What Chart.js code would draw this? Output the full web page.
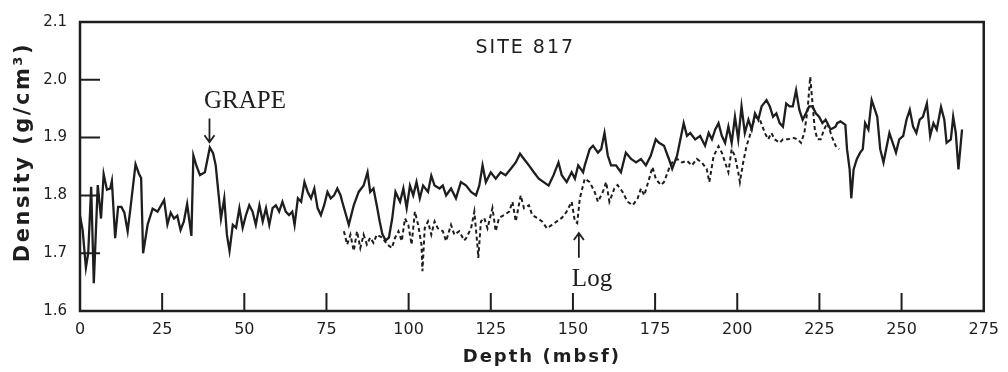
<!DOCTYPE html>
<html>
<head>
<meta charset="utf-8">
<script src="https://cdn.jsdelivr.net/npm/chart.js@4.4.1/dist/chart.umd.min.js"></script>
<style>
  html, body { margin: 0; padding: 0; background: #fff; }
  #wrap { width: 1008px; height: 372px; }
</style>
</head>
<body>
<div id="wrap"><canvas id="c" width="1008" height="372"></canvas></div>
<script>
// GRAPE density (solid line)
const grapeDepth = [
  0, 0.8, 1.8, 2.5, 3.4, 4.2, 5.4, 6.4, 7.2, 8.2, 9.2, 9.7, 10.7, 11.6, 12.6, 13.5, 14.5, 15.4,
  16.9, 17.9, 18.6, 19.2, 20.6, 22.1, 23.6, 25.6, 26.6, 27.6, 28.6, 29.6, 30.6, 31.6, 32.6, 33.9,
  34.5, 35.5, 36.5, 38.0, 39.5, 40.5, 41.3,
  42.2, 42.9, 43.9, 44.7, 45.5, 46.5, 47.5, 48.5, 49.5, 50.5, 51.5, 52.5, 53.5, 54.6, 55.6, 56.6,
  57.6, 58.6, 59.6, 60.6, 61.6, 62.6, 63.6, 64.6, 65.3, 66.3, 67.3, 68.3, 69.3, 70.3, 71.3, 72.3,
  73.3, 74.3, 75.3, 76.3, 77.3, 78.3, 79.3,
  79.8, 81.8, 83.3, 84.8, 86.3, 87.5, 88.3, 89.3, 90.3, 91.2, 92.0, 93.0, 94.0, 95.0, 96.0, 97.4,
  98.4, 99.4, 100.4, 101.4, 102.4, 103.4, 104.4, 105.9, 106.9, 107.9, 109.4, 110.4, 111.4, 112.9,
  114.4, 115.9, 117.5, 119.0, 120.5, 121.5, 122.5, 123.5, 125.0, 126.5, 128.0, 129.5, 131.1, 132.6,
  133.9, 135.1, 136.6, 138.1, 139.6, 141.1, 142.6, 144.1, 145.6, 146.6, 148.1, 149.6, 150.6, 151.6,
  153.1, 153.6, 155.1, 156.1, 157.6, 158.6, 159.6, 160.6, 161.6, 163.1, 164.6, 166.1, 167.7, 169.2,
  170.7, 172.2, 173.7, 175.2, 176.2, 177.7, 179.2, 180.2, 181.7, 182.7, 183.7, 184.7, 185.7, 187.2,
  188.7, 190.2, 191.3, 192.3, 193.3, 194.3, 195.3, 196.3, 197.3, 198.3, 199.3, 200.3, 201.3, 202.3,
  203.4, 204.4, 205.4, 206.4, 207.4, 208.9, 209.9, 210.9, 211.9, 212.9, 213.9, 214.9, 215.9, 216.9,
  217.9, 218.9, 219.9, 220.9, 221.9, 222.9, 223.9, 224.9, 225.9, 226.9, 228.4, 229.9, 230.4, 231.4,
  232.9, 233.4, 234.2, 234.7, 235.4, 236.4, 237.4, 238.2, 238.9, 239.9, 240.9, 241.9, 242.6, 243.5,
  244.5, 245.3, 246.3, 247.3, 248.3, 249.3, 250.5, 251.5, 252.5, 253.5, 254.5, 255.5, 256.5, 257.7,
  258.7, 259.7, 260.7, 262.0, 263.0, 263.7, 265.0, 265.7, 266.5, 267.3, 268.4
];
const grapeDensity = [
  1.765, 1.74, 1.675, 1.70, 1.815, 1.648, 1.818, 1.76, 1.837, 1.81, 1.812, 1.825, 1.726, 1.78, 1.78, 1.77, 1.738, 1.78,
  1.854, 1.838, 1.83, 1.70, 1.75, 1.777, 1.772, 1.792, 1.75, 1.77, 1.76, 1.765, 1.74, 1.755, 1.785, 1.73,
  1.869, 1.85, 1.835, 1.84, 1.883, 1.873, 1.852,
  1.80, 1.76, 1.795, 1.732, 1.704, 1.749, 1.744, 1.778, 1.744, 1.766, 1.783, 1.772, 1.749, 1.783, 1.755, 1.778,
  1.749, 1.778, 1.783, 1.772, 1.789, 1.772, 1.766, 1.772, 1.749, 1.795, 1.789, 1.823, 1.806, 1.795, 1.812, 1.778,
  1.766, 1.783, 1.806, 1.795, 1.80, 1.812, 1.80,
  1.789, 1.749, 1.783, 1.806, 1.817, 1.840, 1.806, 1.812, 1.783, 1.755, 1.733, 1.722, 1.727, 1.76, 1.806, 1.789,
  1.812, 1.778, 1.817, 1.80, 1.823, 1.795, 1.817, 1.806, 1.834, 1.817, 1.812, 1.817, 1.80, 1.812,
  1.795, 1.823, 1.817, 1.806, 1.80, 1.817, 1.852, 1.823, 1.84, 1.829, 1.84, 1.835, 1.846, 1.857,
  1.872, 1.863, 1.852, 1.84, 1.829, 1.823, 1.817, 1.835, 1.857, 1.835, 1.823, 1.84, 1.829, 1.852,
  1.84, 1.852, 1.88, 1.886, 1.874, 1.88, 1.908, 1.869, 1.852, 1.852, 1.84, 1.874, 1.863, 1.857,
  1.863, 1.852, 1.869, 1.897, 1.891, 1.886, 1.863, 1.846, 1.869, 1.897, 1.925, 1.903, 1.908, 1.897,
  1.903, 1.886, 1.908, 1.897, 1.914, 1.925, 1.903, 1.891, 1.919, 1.891, 1.936, 1.897, 1.954, 1.908,
  1.931, 1.914, 1.942, 1.931, 1.954, 1.965, 1.954, 1.936, 1.942, 1.925, 1.919, 1.959, 1.954, 1.954,
  1.982, 1.948, 1.931, 1.942, 1.954, 1.954, 1.942, 1.936, 1.925, 1.931, 1.914, 1.919, 1.925, 1.928,
  1.922, 1.88, 1.845, 1.795, 1.845, 1.863, 1.874, 1.88, 1.925, 1.914, 1.965, 1.948, 1.936, 1.88,
  1.857, 1.88, 1.908, 1.891, 1.874, 1.897, 1.903, 1.931, 1.948, 1.919, 1.908, 1.931, 1.936, 1.959,
  1.903, 1.925, 1.914, 1.953, 1.931, 1.891, 1.897, 1.936, 1.908, 1.845, 1.914
];

// Downhole log density (dashed line)
const logDepth = [
  80.3, 81.3, 82.3, 83.3, 84.3, 85.3, 86.3, 87.3, 88.3, 89.3, 90.3, 92.0, 93.5, 94.9, 95.9, 96.9,
  97.9, 98.9, 99.9, 100.9, 101.9, 102.9, 103.9, 104.2, 104.9, 105.9, 106.9, 107.9, 108.9, 110.4,
  111.4, 112.9, 113.9, 115.4, 116.9, 117.5, 119.0, 120.0, 121.0, 121.2, 122.0, 123.0, 124.0, 125.5,
  126.5, 127.5, 129.1, 130.6, 131.6, 132.6, 134.1, 135.1, 136.6, 137.6, 139.1, 140.6, 142.1, 143.6,
  145.1, 146.6, 148.1, 149.6, 150.6, 151.3, 152.1, 153.6, 155.1, 156.6, 157.6, 159.1, 160.1, 161.1,
  162.6, 163.6, 165.1, 166.6, 168.2, 169.7, 170.7, 171.7, 173.2, 174.2, 175.2, 176.7, 177.7, 179.2,
  180.2, 181.7, 183.2, 184.7, 186.2, 187.7, 189.2, 190.7, 191.5, 192.8, 194.3, 195.3, 196.3, 197.3,
  198.3, 199.3, 200.3, 200.8, 201.8, 202.8, 203.8, 205.4, 206.9, 208.4, 209.4, 210.4, 211.4, 212.9,
  213.9, 215.4, 216.9, 218.4, 219.4, 220.4, 221.4, 222.2, 222.9, 223.6, 224.4, 225.4, 226.4, 227.4,
  228.9, 230.0, 231.0
];
const logDensity = [
  1.738, 1.715, 1.732, 1.704, 1.738, 1.709, 1.732, 1.715, 1.727, 1.718, 1.732, 1.727, 1.715, 1.709, 1.727, 1.738,
  1.721, 1.76, 1.749, 1.715, 1.772, 1.749, 1.715, 1.669, 1.743, 1.755, 1.732, 1.755, 1.743, 1.738,
  1.721, 1.749, 1.732, 1.738, 1.722, 1.726, 1.743, 1.772, 1.709, 1.692, 1.755, 1.761, 1.743, 1.778,
  1.738, 1.761, 1.766, 1.772, 1.789, 1.755, 1.80, 1.778, 1.783, 1.766, 1.761, 1.755, 1.743, 1.749,
  1.755, 1.761, 1.772, 1.789, 1.755, 1.752, 1.795, 1.829, 1.823, 1.806, 1.789, 1.806, 1.823, 1.789,
  1.812, 1.818, 1.806, 1.789, 1.783, 1.795, 1.812, 1.80, 1.829, 1.849, 1.829, 1.818, 1.823, 1.846,
  1.857, 1.863, 1.857, 1.86, 1.852, 1.863, 1.857, 1.846, 1.823, 1.868, 1.885, 1.874, 1.857, 1.84,
  1.88, 1.868, 1.84, 1.823, 1.857, 1.885, 1.903, 1.936, 1.931, 1.908, 1.897, 1.908, 1.897, 1.891,
  1.897, 1.897, 1.90, 1.897, 1.891, 1.908, 1.948, 2.005, 1.959, 1.914, 1.897, 1.897, 1.914, 1.925,
  1.90, 1.885, 1.88
];

const xTicks = [0, 25, 50, 75, 100, 125, 150, 175, 200, 225, 250, 275];
const yTicks = [1.6, 1.7, 1.8, 1.9, 2.0, 2.1];

const INK = '#1e1e1e';
const SANS = '"DejaVu Sans", sans-serif';
const SERIF = '"Liberation Serif", serif';

const framePlugin = {
  id: 'frame',
  afterDraw(chart) {
    const ctx = chart.ctx;
    const a = chart.chartArea;
    const xs = chart.scales.x, ys = chart.scales.y;
    ctx.save();
    ctx.strokeStyle = INK;
    ctx.lineWidth = 2.5;
    ctx.strokeRect(a.left, a.top, a.right - a.left, a.bottom - a.top);
    ctx.lineWidth = 2;
    ctx.beginPath();
    xTicks.slice(1, -1).forEach(v => {
      const px = xs.getPixelForValue(v);
      ctx.moveTo(px, a.bottom);
      ctx.lineTo(px, a.bottom - 18);
    });
    yTicks.slice(1, -1).forEach(v => {
      const py = ys.getPixelForValue(v);
      ctx.moveTo(a.left, py);
      ctx.lineTo(a.left + 20, py);
    });
    ctx.stroke();

    // arrows
    const arrow = (x, y0, y1) => {
      const px = xs.getPixelForValue(x);
      const p0 = ys.getPixelForValue(y0), p1 = ys.getPixelForValue(y1);
      const dir = p1 > p0 ? 1 : -1;
      ctx.lineWidth = 1.8;
      ctx.beginPath();
      ctx.moveTo(px, p0); ctx.lineTo(px, p1);
      ctx.moveTo(px - 5, p1 - dir * 7); ctx.lineTo(px, p1); ctx.lineTo(px + 5, p1 - dir * 7);
      ctx.stroke();
    };
    arrow(39.4, 1.933, 1.892);
    arrow(151.8, 1.692, 1.735);

    ctx.fillStyle = INK;
    ctx.textAlign = 'center';
    ctx.textBaseline = 'middle';
    ctx.font = '25px ' + SERIF;
    ctx.fillText('GRAPE', xs.getPixelForValue(50.2), ys.getPixelForValue(1.962));
    ctx.fillText('Log', xs.getPixelForValue(155.8), ys.getPixelForValue(1.655));

    ctx.font = '19px ' + SANS;
    ctx.letterSpacing = '2px';
    ctx.fillText('SITE 817', xs.getPixelForValue(135.5), ys.getPixelForValue(2.055));

    ctx.font = 'bold 18px ' + SANS;
    ctx.letterSpacing = '2px';
    ctx.fillText('Depth (mbsf)', (a.left + a.right) / 2 + 10, 357);

    ctx.translate(24, 152);
    ctx.rotate(-Math.PI / 2);
    ctx.font = 'bold 21px ' + SANS;
    ctx.letterSpacing = '2.5px';
    ctx.fillText('Density (g/cm\u00B3)', 0, 0);
    ctx.restore();
  }
};

new Chart(document.getElementById('c'), {
  type: 'line',
  data: {
    datasets: [
      {
        label: 'GRAPE',
        data: grapeDepth.map((d, i) => ({x: d, y: grapeDensity[i]})),
        borderColor: INK,
        borderWidth: 2.3,
        pointRadius: 0,
        tension: 0
      },
      {
        label: 'Log',
        data: logDepth.map((d, i) => ({x: d, y: logDensity[i]})),
        borderColor: INK,
        borderWidth: 2,
        borderDash: [4, 3],
        pointRadius: 0,
        tension: 0
      }
    ]
  },
  options: {
    responsive: false,
    animation: false,
    layout: {padding: {top: 17, right: 15, left: 0, bottom: 0}},
    plugins: {legend: {display: false}, tooltip: {enabled: false}},
    scales: {
      x: {
        type: 'linear',
        min: 0, max: 275,
        afterBuildTicks: s => { s.ticks = xTicks.map(v => ({value: v})); },
        afterFit: s => { s.height = 61; },
        grid: {display: false, drawTicks: false},
        border: {display: false},
        ticks: {color: INK, padding: 9, font: {family: SANS, size: 16}, maxRotation: 0, autoSkip: false}
      },
      y: {
        min: 1.6, max: 2.1,
        afterBuildTicks: s => { s.ticks = yTicks.map(v => ({value: v})); },
        afterFit: s => { s.width = 80; },
        grid: {display: false, drawTicks: false},
        border: {display: false},
        ticks: {color: INK, padding: 13, font: {family: SANS, size: 15}, callback: v => v.toFixed(1)}
      }
    }
  },
  plugins: [framePlugin]
});
</script>
</body>
</html>
